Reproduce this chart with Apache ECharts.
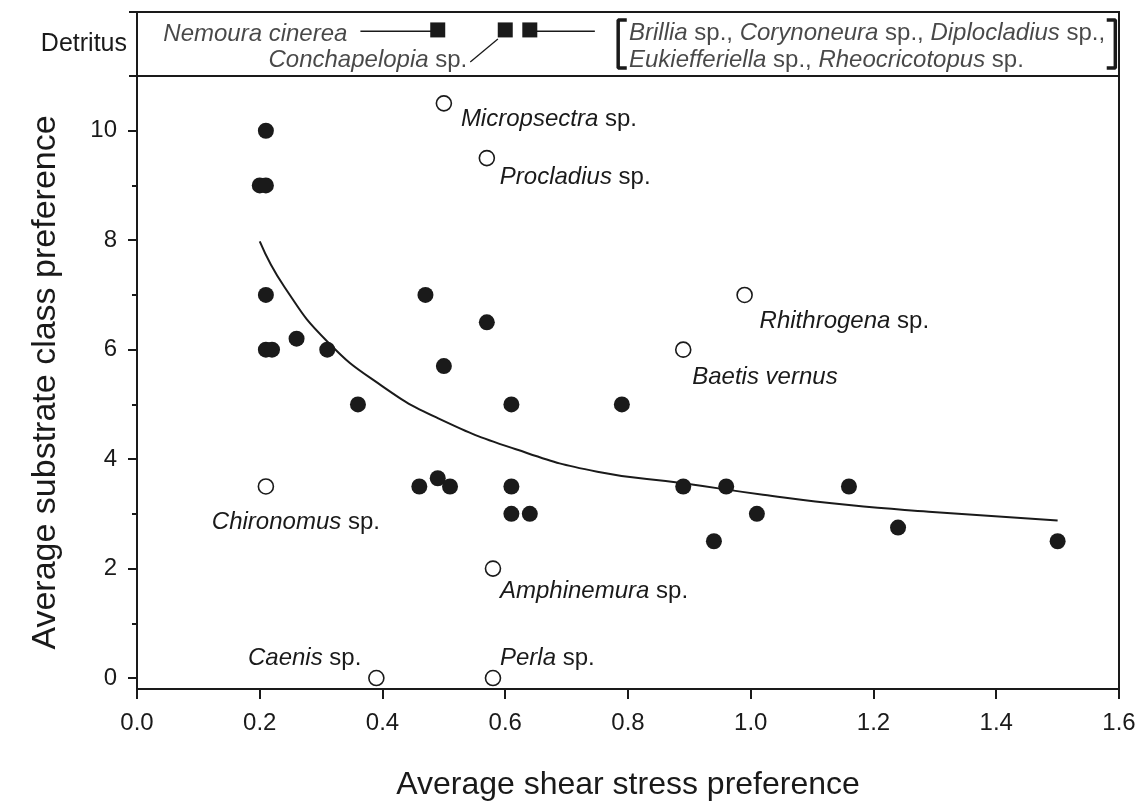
<!DOCTYPE html>
<html><head><meta charset="utf-8">
<script src="https://cdn.jsdelivr.net/npm/echarts@6/dist/echarts.min.js"></script>
<style>html,body{margin:0;padding:0;background:#fff}#c{width:1146px;height:801px}</style>
</head><body><div id="c"></div>
<script>
const FONT = '"Liberation Sans", Arial, Helvetica, sans-serif';
const INK = '#1a1a1a';

// ---- data ----
const xTickValues = [0, 0.2, 0.4, 0.6, 0.8, 1.0, 1.2, 1.4, 1.6];
const yLabelValues = [0, 2, 4, 6, 8, 10];
const yMinorValues = [1, 3, 5, 7, 9];

const filledX = [0.21,0.20,0.21,0.21,0.21,0.22,0.26,0.31,0.36,0.47,0.50,0.57,0.61,0.79,0.46,0.49,0.51,0.61,0.61,0.64,0.89,0.96,0.94,1.01,1.16,1.24,1.50];
const filledY = [10,9,9,7,6,6,6.2,6,5,7,5.7,6.5,5,5,3.5,3.65,3.5,3.5,3.0,3.0,3.5,3.5,2.5,3.0,3.5,2.75,2.5];

const openTaxa = ['Micropsectra','Procladius','Rhithrogena','Baetis vernus','Chironomus','Amphinemura','Caenis','Perla'];
const openSp   = [true,true,true,false,true,true,true,true];
const openX = [0.50,0.57,0.99,0.89,0.21,0.58,0.39,0.58];
const openY = [10.5,9.5,7,6,3.5,2,0,0];

const fitX = [0.20,0.24,0.31,0.40,0.49,0.62,0.75,0.89,1.02,1.16,1.29,1.50];
const fitY = [7.98,7.15,6.15,5.33,4.75,4.17,3.77,3.56,3.35,3.16,3.04,2.88];

const detritusX = [0.49, 0.60, 0.64];
const groupLines = [
  '{i|Brillia} sp., {i|Corynoneura} sp., {i|Diplocladius} sp.,',
  '{i|Eukiefferiella} sp., {i|Rheocricotopus} sp.'
];

// ---- layout (positions/styles only) ----
const labelLayout = {
  'Micropsectra':  {align:'left',   offset:[17,16]},
  'Procladius':    {align:'left',   offset:[13,19]},
  'Rhithrogena':   {align:'left',   offset:[15,26]},
  'Baetis vernus': {align:'left',   offset:[9,28]},
  'Chironomus':    {align:'center', offset:[30,36]},
  'Amphinemura':   {align:'left',   offset:[7,23]},
  'Caenis':        {align:'right',  offset:[-15,-20]},
  'Perla':         {align:'left',   offset:[7,-20]}
};
const STRIP_Y = 0.70;
const richI = {i:{fontStyle:'italic', fontSize:24, fontFamily:FONT, color:INK}};
const baseLbl = {fontSize:24, fontFamily:FONT, color:INK, rich:richI};

const openData = openTaxa.map((t,k)=>({
  name:t, value:[openX[k], openY[k]],
  label:Object.assign({show:true, position:'inside', verticalAlign:'middle',
    formatter: '{i|'+t+'}'+(openSp[k]?' sp.':'')}, baseLbl, labelLayout[t])
}));

const lineStyle = {color:INK, width:2};
function seg(pts, w){ return {type:'line', xAxisIndex:1, yAxisIndex:2, data:pts, symbol:'none',
  lineStyle:{color:INK, width:w||1.6}, silent:true, animation:false}; }

const chart = echarts.init(document.getElementById('c'), null, {renderer:'canvas'});
chart.setOption({
  animation:false,
  backgroundColor:'#fff',
  grid:[
    {left:137, right:27, top:76, bottom:112, show:true, borderColor:INK, borderWidth:2, outerBoundsMode:'none'},
    {left:137, right:27, top:12, height:64, show:true, borderColor:INK, borderWidth:2, outerBoundsMode:'none'}
  ],
  xAxis:[
    {gridIndex:0, type:'value', position:'bottom', min:0, max:1.6, interval:0.2,
     axisLine:{onZero:false, lineStyle}, axisTick:{length:10, lineStyle}, splitLine:{show:false},
     axisLabel:{fontSize:24, fontFamily:FONT, color:INK, margin:22, formatter:v=>v.toFixed(1)},
     name:'Average shear stress preference', nameLocation:'middle', nameGap:80,
     nameTextStyle:{fontSize:32, fontFamily:FONT, color:INK}},
    {gridIndex:1, type:'value', min:0, max:1.6, show:false}
  ],
  yAxis:[
    {gridIndex:0, type:'value', position:'left', min:-0.2, max:11,
     axisLine:{show:true, onZero:false, lineStyle}, splitLine:{show:false},
     axisTick:{show:true, length:9, lineStyle, customValues:yLabelValues},
     axisLabel:{fontSize:24, fontFamily:FONT, color:INK, margin:20, customValues:yLabelValues},
     name:'Average substrate class preference', nameLocation:'middle', nameGap:74,
     nameTextStyle:{fontSize:34, fontFamily:FONT, color:INK}},
    {gridIndex:0, type:'value', position:'left', offset:0, min:-0.2, max:11,
     axisLine:{show:false, onZero:false}, splitLine:{show:false}, axisLabel:{show:false},
     axisTick:{show:true, length:5, lineStyle, customValues:yMinorValues}},
    {gridIndex:1, type:'value', position:'left', min:0, max:1,
     axisLine:{show:true, onZero:false, lineStyle}, splitLine:{show:false},
     axisTick:{show:true, length:8, lineStyle, customValues:[0,1]},
     axisLabel:{fontSize:25, fontFamily:FONT, color:INK, margin:10, customValues:[0.5], formatter:()=> 'Detritus'}}
  ],
  series:[
    {type:'line', xAxisIndex:0, yAxisIndex:0, smooth:0.5, symbol:'none',
     data:fitX.map((x,k)=>[x, fitY[k]]), lineStyle:{color:INK, width:2}, z:2},
    {type:'scatter', xAxisIndex:0, yAxisIndex:0, symbolSize:16,
     data:filledX.map((x,k)=>[x, filledY[k]]), itemStyle:{color:INK, opacity:1}, z:3},
    {type:'scatter', xAxisIndex:0, yAxisIndex:0, symbolSize:15,
     data:openData, itemStyle:{color:'#fff', borderColor:INK, borderWidth:1.6, opacity:1}, z:3},
    // Detritus strip
    seg([[0.364, STRIP_Y],[detritusX[0], STRIP_Y]]),
    seg([[detritusX[2], STRIP_Y],[0.746, STRIP_Y]]),
    seg([[0.543, 0.22],[0.588, 0.58]], 1.3),
    seg([[0.798,0.875],[0.784,0.875],[0.784,0.125],[0.798,0.125]], 3.5),
    seg([[1.580,0.875],[1.594,0.875],[1.594,0.125],[1.580,0.125]], 3.5),
    {type:'scatter', xAxisIndex:1, yAxisIndex:2, symbol:'rect', symbolSize:15,
     data:detritusX.map(x=>[x, STRIP_Y+0.02]), itemStyle:{color:INK, opacity:1}, z:4},
    {type:'scatter', xAxisIndex:1, yAxisIndex:2, symbolSize:0, silent:true,
     data:[
       {value:[0.364, STRIP_Y], label:Object.assign({show:true, position:'left', distance:13, offset:[0,3], formatter:'{i|Nemoura cinerea}'}, baseLbl)},
       {value:[0.543, 0.22], label:Object.assign({show:true, position:'left', distance:3, offset:[0,-2], formatter:'{i|Conchapelopia} sp.'}, baseLbl)},
       {value:[0.8016, 0.672], label:Object.assign({show:true, position:'right', distance:0, formatter:groupLines[0]}, baseLbl)},
       {value:[0.8016, 0.25], label:Object.assign({show:true, position:'right', distance:0, formatter:groupLines[1]}, baseLbl)}
     ], z:5}
  ]
});
</script></body></html>
